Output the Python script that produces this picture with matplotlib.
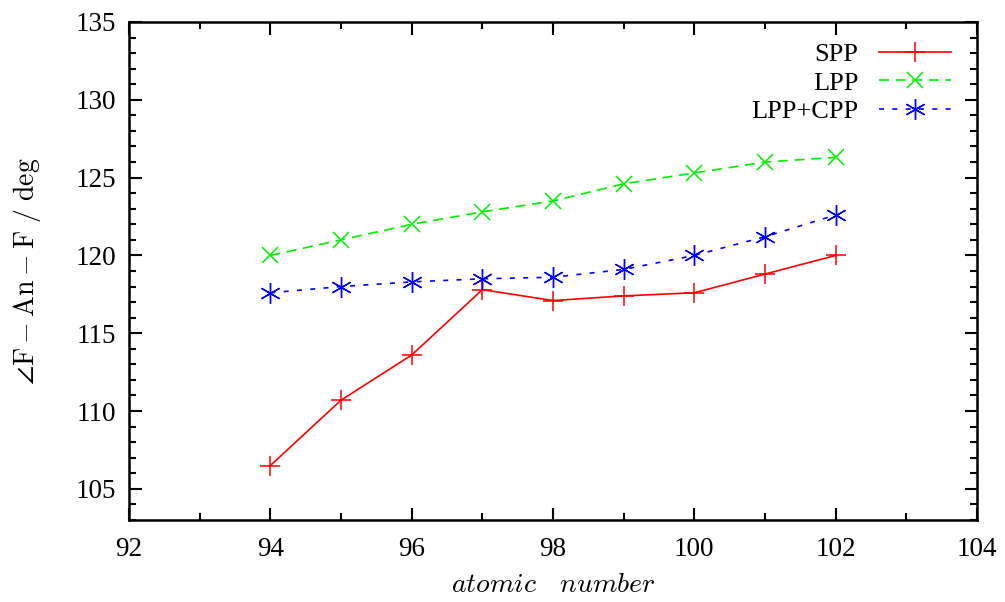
import matplotlib
matplotlib.use("Agg")
import matplotlib.pyplot as plt
from matplotlib.ticker import MultipleLocator

atomic_number = [94, 95, 96, 97, 98, 99, 100, 101, 102]
spp = [106.5, 110.7, 113.6, 117.8, 117.1, 117.4, 117.6, 118.8, 120.0]
lpp = [120.0, 121.0, 122.0, 122.8, 123.5, 124.6, 125.3, 126.0, 126.3]
lpp_cpp = [117.6, 118.0, 118.3, 118.5, 118.6, 119.1, 120.0, 121.2, 122.6]

plt.rcParams.update({
    "font.family": "serif",
    "font.serif": ["Liberation Serif", "DejaVu Serif"],
    "mathtext.fontset": "cm",
    "font.size": 19,
})

fig = plt.figure(figsize=(10.05, 6.02), dpi=100)
ax = fig.add_axes([0.1284, 0.1362, 0.8437, 0.8273])

ax.plot(atomic_number, spp, color="#ff0000", lw=1.2, ls="-",
        marker="+", ms=15, mew=1.1, label="SPP")
ax.plot(atomic_number, lpp, color="#00ee00", lw=1.2, ls=(0, (6, 4)),
        marker="x", ms=12, mew=1.1, label="LPP")
ax.plot(atomic_number, lpp_cpp, color="#0000ff", lw=1.2, ls=(0, (3, 5)),
        marker=(6, 2, 0), ms=15, mew=1.0, label="LPP+CPP")

ax.set_xlim(92, 104)
ax.set_ylim(103, 135)
ax.xaxis.set_major_locator(MultipleLocator(2))
ax.xaxis.set_minor_locator(MultipleLocator(1))
ax.yaxis.set_major_locator(MultipleLocator(5))
ax.yaxis.set_minor_locator(MultipleLocator(1))
ax.tick_params(which="both", direction="in", top=True, right=True, width=1.5,
               labelsize=19.5)
ax.tick_params(axis="x", which="major", pad=12)
ax.tick_params(axis="y", which="major", pad=9)
ax.tick_params(which="major", length=9)
ax.tick_params(which="minor", length=5)
for s in ax.spines.values():
    s.set_linewidth(1.8)

ax.set_xlabel(r"$atomic\quad number$", fontsize=20, labelpad=8)
ax.set_ylabel(r"$\angle\mathrm{F}-\mathrm{An}-\mathrm{F}\ /\ \mathrm{deg}$",
              fontsize=20, labelpad=24)

ax.legend(loc="upper right", bbox_to_anchor=(1.0, 1.012), frameon=False,
          markerfirst=False, fontsize=19, handlelength=2.7, handletextpad=0.8,
          labelspacing=0.2, borderaxespad=0.6)

fig.savefig("out.png", dpi=100)
